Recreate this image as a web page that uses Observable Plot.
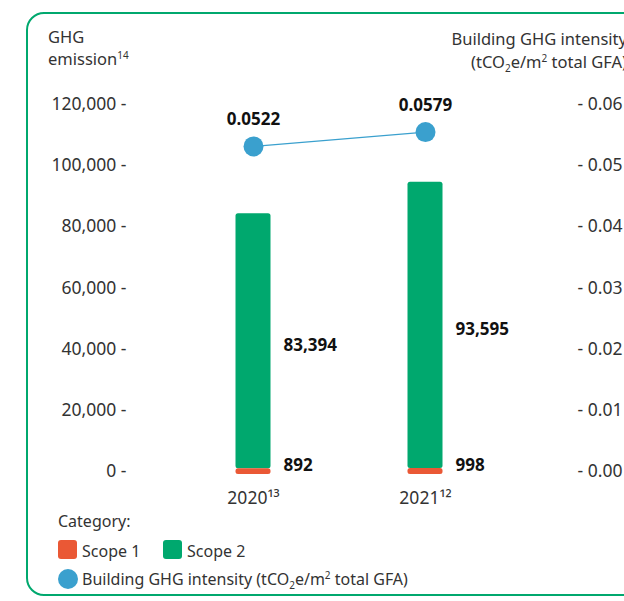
<!DOCTYPE html>
<html><head><meta charset="utf-8">
<script src="https://cdn.jsdelivr.net/npm/d3@7"></script>
<script src="https://cdn.jsdelivr.net/npm/@observablehq/plot@0.6"></script>
<style>
body{margin:0;background:#fff;}
#wrap{position:relative;width:624px;height:601px;overflow:hidden;font-family:"Noto Sans",sans-serif;color:#333;font-size:16px;}
#frame{position:absolute;left:26px;top:12px;width:700px;height:584px;border:2.5px solid #00A86E;border-radius:18px;box-sizing:border-box;}
#chart{position:absolute;left:0;top:0;}
.t{position:absolute;white-space:nowrap;line-height:22px;}
.sup{font-size:10px;position:relative;top:-6px;}
.sub{font-size:10px;position:relative;top:4px;}
.sw{position:absolute;width:19px;height:19px;border-radius:3px;}
</style></head>
<body>
<div id="wrap">
  <div id="frame"></div>
  <div id="chart"></div>
  <div class="t" style="left:48px;top:26px;font-size:16.5px;">GHG<br>emission<span class="sup">14</span></div>
  <div class="t" style="right:-3px;top:27px;text-align:right;line-height:23px;font-size:16.5px;">Building GHG intensity<br>(tCO<span class="sub">2</span>e/m<span class="sup">2</span> total GFA)</div>
  <div class="t" style="left:58px;top:510px;">Category:</div>
  <div class="sw" style="left:58px;top:540px;background:#EA5835;"></div>
  <div class="t" style="left:82px;top:540px;">Scope 1</div>
  <div class="sw" style="left:163px;top:540px;background:#00A86E;"></div>
  <div class="t" style="left:187px;top:540px;">Scope 2</div>
  <div class="sw" style="left:58px;top:569px;width:20px;height:20px;border-radius:50%;background:#3AA0CE;"></div>
  <div class="t" style="left:82px;top:568px;">Building GHG intensity (tCO<span class="sub">2</span>e/m<span class="sup">2</span> total GFA)</div>
</div>
<script>
const years = ["2020", "2021"];
const yearNotes = ["¹³", "¹²"];
const scope1 = [892, 998];
const scope2 = [83394, 93595];
const intensity = [0.0522, 0.0579];
const intensityLabels = ["0.0522", "0.0579"];
const leftTicks = [0, 20000, 40000, 60000, 80000, 100000, 120000];
const rightTickLabels = ["0.00", "0.01", "0.02", "0.03", "0.04", "0.05", "0.06"];

// the intensity line sits on its own (independent) scale, placed over the emission axis
const intensityToY = d3.scaleLinear().domain([0, 0.06]).range([63400, 112700]);

const green = years.map((y, i) => ({year: y, y1: scope1[i], y2: scope1[i] + scope2[i], v: scope2[i]}));
const orange = years.map((y, i) => ({year: y, y1: 0, y2: scope1[i], v: scope1[i]}));
const pts = years.map((y, i) => ({year: y, yv: intensityToY(intensity[i]), label: intensityLabels[i]}));
const fmt = d3.format(",");

const chart = Plot.plot({
  width: 624, height: 601,
  marginTop: 104, marginBottom: 130, marginLeft: 167, marginRight: 113,
  style: {fontFamily: "Noto Sans", fontSize: "17.5px", color: "#333", background: "transparent", overflow: "visible"},
  x: {domain: years, padding: 0},
  y: {domain: [0, 120000]},
  marks: [
    Plot.barY(green, {x: "year", y1: "y1", y2: "y2", fill: "#00A86E", insetLeft: 68.5, insetRight: 68.5, rx: 2.5}),
    Plot.barY(orange, {x: "year", y1: "y1", y2: "y2", fill: "#EA5835", insetLeft: 68.5, insetRight: 68.5, insetBottom: -3, rx: 2.5}),
    Plot.axisY({ticks: leftTicks, anchor: "left", tickSize: 0, tickPadding: 41, label: null, fontSize: 17.5, tickFormat: d => fmt(d) + " -"}),
    Plot.axisY({ticks: leftTicks, anchor: "right", tickSize: 0, tickPadding: 66, label: null, fontSize: 17.5, tickFormat: d => "- " + rightTickLabels[leftTicks.indexOf(d)]}),
    Plot.axisX({anchor: "bottom", tickSize: 0, tickPadding: 20, label: null, fontSize: 17.5, tickFormat: d => d + yearNotes[years.indexOf(d)]}),
    Plot.line(pts, {x: "year", y: "yv", stroke: "#3AA0CE", strokeWidth: 1.2}),
    Plot.dot(pts, {x: "year", y: "yv", r: 10, fill: "#3AA0CE"}),
    Plot.text(pts, {x: "year", y: "yv", text: "label", dy: -27, fontWeight: "bold", fontSize: 17, fill: "#111"}),
    Plot.text(green, {x: "year", y: d => (d.y1 + d.y2) / 2, text: d => fmt(d.v), dx: 30, dy: 4, textAnchor: "start", fontWeight: "bold", fontSize: 17, fill: "#111"}),
    Plot.text(orange, {x: "year", y: 0, text: d => fmt(d.v), dx: 30, dy: -6, textAnchor: "start", fontWeight: "bold", fontSize: 17, fill: "#111"})
  ]
});
document.getElementById("chart").appendChild(chart);
</script>
</body></html>
